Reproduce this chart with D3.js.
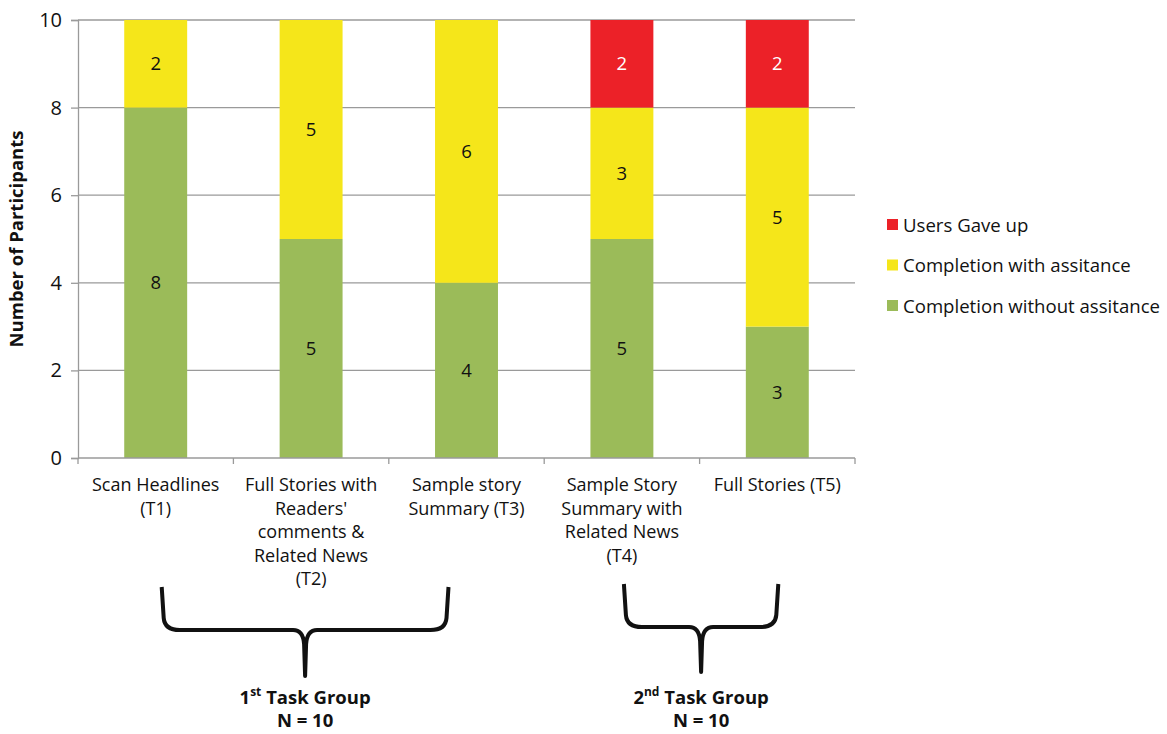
<!DOCTYPE html>
<html>
<head>
<meta charset="utf-8">
<script src="https://cdn.jsdelivr.net/npm/d3@7/dist/d3.min.js"></script>
<style>
  body { margin: 0; background: #fff; }
  svg { display: block; font-family: "Open Sans", "Noto Sans", sans-serif; }
</style>
</head>
<body>
<svg id="chart" width="1167" height="734"></svg>
<script>
// Task categories (multi-line labels)
const categories = ["T1", "T2", "T3", "T4", "T5"];
const categoryLabels = [
  ["Scan Headlines", "(T1)"],
  ["Full Stories with", "Readers'", "comments &", "Related News", "(T2)"],
  ["Sample story", "Summary (T3)"],
  ["Sample Story", "Summary with", "Related News", "(T4)"],
  ["Full Stories (T5)"]
];

// Series values, stacked bottom to top
const withoutAssistance = [8, 5, 4, 5, 3];
const withAssistance    = [2, 5, 6, 3, 5];
const gaveUp            = [0, 0, 0, 2, 2];

const seriesNames = ["Completion without assitance", "Completion with assitance", "Users Gave up"];
const seriesColors = ["#9BBB59", "#F5E61A", "#EC2128"];

const yTicks = [0, 2, 4, 6, 8, 10];

// Task groups shown with braces beneath the axis
const groupNames = [["1", "st", " Task Group"], ["2", "nd", " Task Group"]];
const groupSizes = ["N = 10", "N = 10"];
const groupMembers = [["T1", "T3"], ["T4", "T5"]];

const svg = d3.select("#chart");
const margin = { left: 78, right: 312, top: 20, bottom: 276 };
const W = 1167, H = 734;

const x = d3.scaleBand().domain(categories).range([margin.left, W - margin.right]).paddingInner(0).paddingOuter(0);
const y = d3.scaleLinear().domain([0, 10]).range([H - margin.bottom, margin.top]);
const barW = x.bandwidth() * 0.405;
const cx = c => x(c) + x.bandwidth() / 2;

// Table built for the stack layout
const table = categories.map((c, i) => ({
  cat: c,
  without: withoutAssistance[i],
  with: withAssistance[i],
  gave: gaveUp[i]
}));
const keys = ["without", "with", "gave"];
const stacked = d3.stack().keys(keys)(table);

// Gridlines
svg.append("g")
  .selectAll("line")
  .data(yTicks.filter(t => t > 0))
  .join("line")
  .attr("x1", margin.left).attr("x2", W - margin.right)
  .attr("y1", d => y(d)).attr("y2", d => y(d))
  .attr("stroke", "#9a9a9a").attr("stroke-width", 1.3);

// Bars and segment value labels
stacked.forEach((layer, li) => {
  const segs = layer.filter(d => d[1] - d[0] > 0);
  svg.append("g")
    .selectAll("rect")
    .data(segs)
    .join("rect")
    .attr("x", d => cx(d.data.cat) - barW / 2)
    .attr("width", barW)
    .attr("y", d => y(d[1]))
    .attr("height", d => y(d[0]) - y(d[1]))
    .attr("fill", seriesColors[li]);

  svg.append("g")
    .selectAll("text")
    .data(segs)
    .join("text")
    .attr("x", d => cx(d.data.cat))
    .attr("y", d => (y(d[0]) + y(d[1])) / 2)
    .attr("dy", "0.36em")
    .attr("text-anchor", "middle")
    .attr("font-size", 18.5)
    .attr("fill", li === 2 ? "#fff" : "#111")
    .text(d => d[1] - d[0]);
});

// Y axis
const yAxis = svg.append("g")
  .attr("transform", `translate(${margin.left},0)`)
  .call(d3.axisLeft(y).tickValues(yTicks).tickSize(7).tickPadding(9));
yAxis.select(".domain").attr("stroke", "#9a9a9a").attr("stroke-width", 1.3);
yAxis.selectAll(".tick line").attr("stroke", "#9a9a9a").attr("stroke-width", 1.3);
yAxis.selectAll(".tick text").attr("font-size", 20).attr("fill", "#111")
  .attr("font-family", "'Open Sans', sans-serif");

// X axis: baseline with ticks at band boundaries
const xg = svg.append("g");
xg.append("line")
  .attr("x1", margin.left).attr("x2", W - margin.right)
  .attr("y1", y(0)).attr("y2", y(0))
  .attr("stroke", "#9a9a9a").attr("stroke-width", 1.3);
const boundaries = categories.map(c => x(c)).concat([x(categories[categories.length - 1]) + x.bandwidth()]);
xg.selectAll("line.tk")
  .data(boundaries)
  .join("line").attr("class", "tk")
  .attr("x1", d => d).attr("x2", d => d)
  .attr("y1", y(0)).attr("y2", y(0) + 6)
  .attr("stroke", "#9a9a9a").attr("stroke-width", 1.3);

// Category labels
categories.forEach((c, i) => {
  const t = svg.append("text")
    .attr("text-anchor", "middle")
    .attr("font-size", 18)
    .attr("fill", "#111");
  categoryLabels[i].forEach((line, j) => {
    t.append("tspan")
      .attr("x", cx(c))
      .attr("y", y(0) + 33 + j * 23.6)
      .text(line);
  });
});

// Y title
svg.append("text")
  .attr("transform", `translate(23,${(y(0) + y(10)) / 2}) rotate(-90)`)
  .attr("text-anchor", "middle")
  .attr("font-size", 18.5)
  .attr("font-weight", "bold")
  .attr("fill", "#111")
  .text("Number of Participants");

// Legend (top to bottom: gave up, with, without)
const legendOrder = [2, 1, 0];
const lg = svg.append("g").attr("transform", "translate(887,225)");
legendOrder.forEach((si, k) => {
  lg.append("rect")
    .attr("x", 0).attr("y", k * 40.5 - 6)
    .attr("width", 11).attr("height", 11)
    .attr("fill", seriesColors[si]);
  lg.append("text")
    .attr("x", 16).attr("y", k * 40.5)
    .attr("dy", "0.35em")
    .attr("font-size", 18.6)
    .attr("fill", "#111")
    .text(seriesNames[si]);
});

// Braces under the axis
function bracePath(x0, x1, top, mid, tip) {
  const xm = (x0 + x1) / 2;
  const r = 12;
  return `M${x0},${top} L${x0 + 2},${mid - r}` +
    ` Q${x0 + 3},${mid} ${x0 + r + 6},${mid}` +
    ` L${xm - 12},${mid}` +
    ` Q${xm - 2},${mid} ${xm - 1},${mid + 14}` +
    ` L${xm},${tip}` +
    ` L${xm + 1},${mid + 14}` +
    ` Q${xm + 2},${mid} ${xm + 12},${mid}` +
    ` L${x1 - r - 6},${mid}` +
    ` Q${x1 - 3},${mid} ${x1 - 2},${mid - r}` +
    ` L${x1},${top}`;
}

const braceExtents = [
  [cx(groupMembers[0][0]) + 6, cx(groupMembers[0][1]) - 18, 587, 630, 676],
  [cx(groupMembers[1][0]) + 2, cx(groupMembers[1][1]) + 1, 584, 627, 672]
];

braceExtents.forEach((b, i) => {
  svg.append("path")
    .attr("d", bracePath(b[0], b[1], b[2], b[3], b[4]))
    .attr("fill", "none")
    .attr("stroke", "#111")
    .attr("stroke-width", 4)
    .attr("stroke-linejoin", "round");

  const mx = (b[0] + b[1]) / 2;
  const t = svg.append("text")
    .attr("x", mx).attr("y", 704)
    .attr("text-anchor", "middle")
    .attr("font-size", 18.5)
    .attr("font-weight", "bold")
    .attr("fill", "#111");
  t.append("tspan").text(groupNames[i][0]);
  t.append("tspan").attr("font-size", 12).attr("dy", -8).text(groupNames[i][1]);
  t.append("tspan").attr("dy", 8).text(groupNames[i][2]);

  svg.append("text")
    .attr("x", mx).attr("y", 727)
    .attr("text-anchor", "middle")
    .attr("font-size", 18.5)
    .attr("font-weight", "bold")
    .attr("fill", "#111")
    .text(groupSizes[i]);
});
</script>
</body>
</html>
